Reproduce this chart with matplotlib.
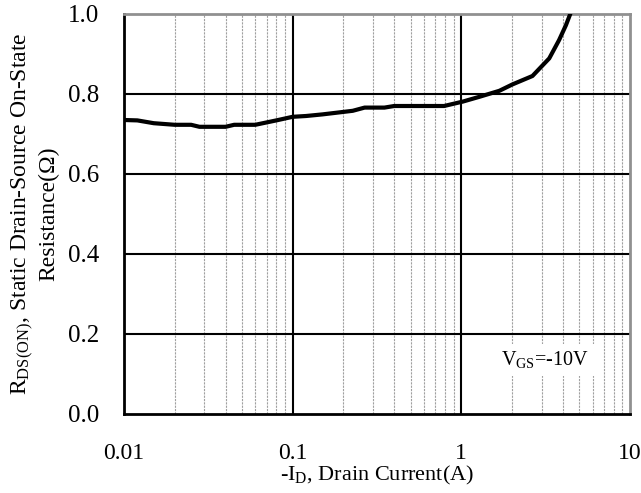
import numpy as np
import matplotlib
matplotlib.use("Agg")
import matplotlib.pyplot as plt
from matplotlib.ticker import FixedLocator, NullFormatter

plt.rcParams['font.family'] = ['Liberation Serif', 'DejaVu Serif']
plt.rcParams['mathtext.fontset'] = 'custom'
plt.rcParams['mathtext.rm'] = 'Liberation Serif'
plt.rcParams['mathtext.it'] = 'Liberation Serif'

# Data
current = [0.010, 0.012, 0.015, 0.020, 0.025, 0.028, 0.040, 0.045, 0.060,
           0.080, 0.100, 0.120, 0.150, 0.227, 0.267, 0.350, 0.400, 0.790,
           1.02, 1.28, 1.68, 2.01, 2.64, 3.32, 3.80, 4.17, 4.45]
rdson = [0.735, 0.734, 0.727, 0.723, 0.723, 0.718, 0.718, 0.723, 0.723,
         0.734, 0.743, 0.745, 0.749, 0.758, 0.766, 0.766, 0.770, 0.770,
         0.781, 0.793, 0.808, 0.824, 0.845, 0.889, 0.935, 0.972, 1.003]

x_ticks = [0.01, 0.1, 1, 10]
x_labels = ["0.01", "0.1", "1", "10"]
y_ticks = [0.0, 0.2, 0.4, 0.6, 0.8, 1.0]
y_labels = ["0.0", "0.2", "0.4", "0.6", "0.8", "1.0"]

fig = plt.figure(figsize=(6.41, 4.93), dpi=100)
ax = fig.add_axes([124 / 641, 79 / 493, 506 / 641, 400 / 493])

ax.set_xscale("log")
ax.set_xlim(0.01, 10)
ax.set_ylim(0, 1.0)

# minor grid
minors = [m * 10.0 ** d for d in (-2, -1, 0) for m in range(2, 10)]
for xm in minors:
    ax.axvline(xm, color="#a0a0a0", lw=0.8, ls=(0, (2, 1)), zorder=1)
for xM in x_ticks[1:-1]:
    ax.axvline(xM, color="black", lw=1.5, zorder=2)
for yM in y_ticks[1:-1]:
    ax.axhline(yM, color="black", lw=1.5, zorder=2)

ax.plot(current, rdson, color="black", lw=3, zorder=4, solid_capstyle="butt")

ax.xaxis.set_major_locator(FixedLocator(x_ticks))
ax.xaxis.set_minor_locator(FixedLocator(minors))
ax.xaxis.set_minor_formatter(NullFormatter())
ax.set_xticklabels(x_labels)
ax.set_yticks(y_ticks)
ax.set_yticklabels(y_labels)
ax.tick_params(axis="both", which="both", length=0, labelsize=18)
ax.tick_params(axis="x", labelsize=17, pad=21)
ax.tick_params(axis="y", pad=18)

for side in ("left", "bottom"):
    ax.spines[side].set_color("black")
    ax.spines[side].set_linewidth(2)
for side in ("top", "right"):
    ax.spines[side].set_color("#909090")
    ax.spines[side].set_linewidth(2)

ax.text(3.14, 0.135, r"$\mathregular{V_{GS}}$=-10V", fontsize=14.5,
        ha="center", va="center", zorder=5,
        bbox=dict(facecolor="white", edgecolor="none", pad=4))

ax.set_xlabel(r"-$\mathregular{I_{D}}$, Drain Current(A)", fontsize=16, labelpad=0)
ax.set_ylabel("$\\mathregular{R_{DS(ON)}}$, Static Drain-Source On-State\nResistance(\u03a9)",
              fontsize=17, labelpad=6, linespacing=1.15)

fig.savefig("out.png", dpi=100)
